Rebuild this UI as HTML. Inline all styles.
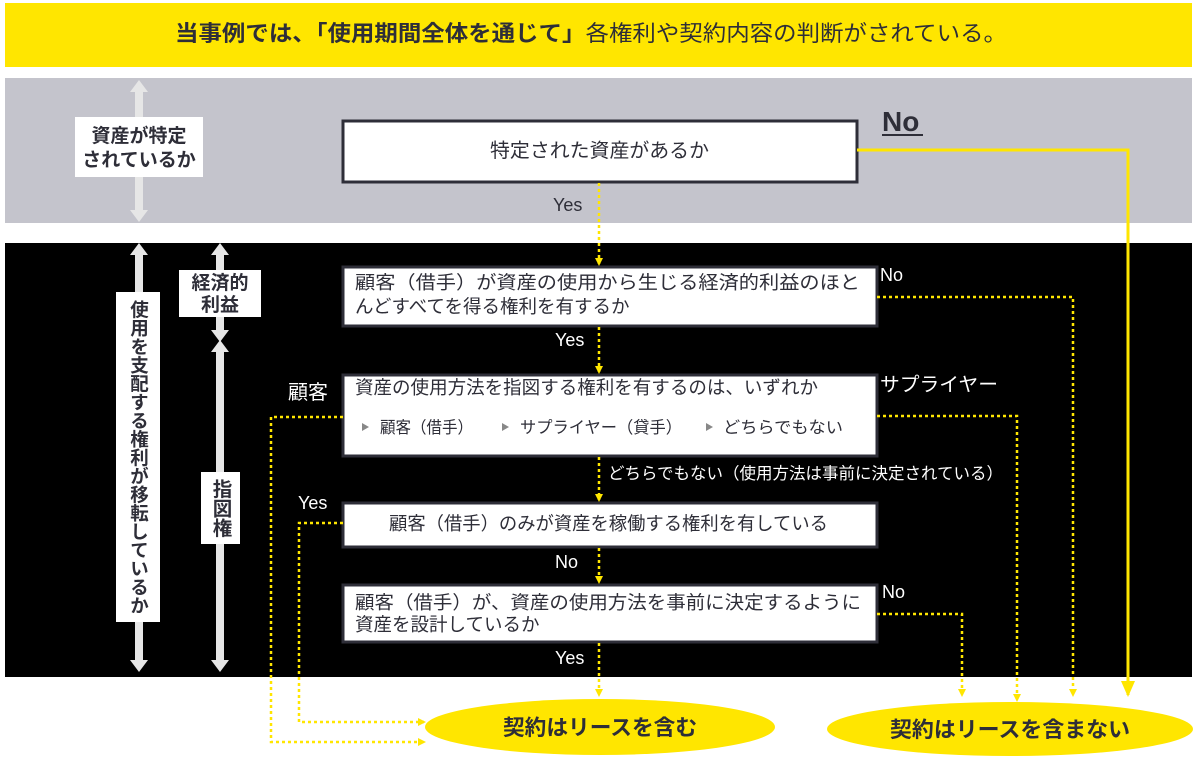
<!DOCTYPE html>
<html><head><meta charset="utf-8"><style>
body{margin:0;background:#fff}
svg{display:block}
text{font-family:"Liberation Sans","Noto Sans CJK JP",sans-serif}
</style></head><body>
<svg width="1197" height="763" viewBox="0 0 1197 763" xmlns="http://www.w3.org/2000/svg">
<defs>
<marker id="ay" markerWidth="8" markerHeight="8" refX="6" refY="4" orient="auto" markerUnits="userSpaceOnUse"><path d="M0,0 L8,4 L0,8z" fill="#FFE600"/></marker>
<marker id="ay2" markerWidth="16" markerHeight="14" refX="14" refY="7" orient="auto" markerUnits="userSpaceOnUse"><path d="M0,0 L16,7 L0,14z" fill="#FFE600"/></marker>
</defs>
<rect x="5" y="3" width="1187" height="64" fill="#FFE600"/>
<text x="175" y="41" font-size="22" fill="#2e2e38" textLength="832" lengthAdjust="spacingAndGlyphs"><tspan font-weight="bold">当事例では、「使用期間全体を通じて」</tspan>各権利や契約内容の判断がされている。</text>
<rect x="5" y="78" width="1187" height="145" fill="#C4C4CC"/>
<rect x="5" y="243" width="1187" height="434" fill="#000"/>

<g fill="#E6E6E6">
<rect x="135" y="92" width="8" height="118"/>
<path d="M130,92 L139,80 L148,92z M130,210 L139,222 L148,210z"/>
<rect x="135" y="255" width="8" height="405"/>
<path d="M130,255 L139,243 L148,255z M130,660 L139,672 L148,660z"/>
<rect x="216" y="255" width="8" height="75"/>
<path d="M211,255 L220,243 L229,255z M211,330 L220,342 L229,330z"/>
<rect x="216" y="352" width="8" height="310"/>
<path d="M211,352 L220,340 L229,352z M211,660 L220,672 L229,660z"/>
</g>
<rect x="75" y="117" width="128" height="60" fill="#fff"/>
<text x="139" y="142" font-size="19" font-weight="bold" text-anchor="middle" fill="#2e2e38">資産が特定</text>
<text x="139" y="166" font-size="19" font-weight="bold" text-anchor="middle" fill="#2e2e38">されているか</text>
<rect x="116" y="292" width="44" height="330" fill="#fff"/>
<text x="139" y="300" font-size="18.5" font-weight="bold" fill="#2e2e38" style="writing-mode:vertical-rl">使用を支配する権利が移転しているか</text>
<rect x="179" y="270" width="82" height="47" fill="#fff"/>
<text x="220" y="289" font-size="19" font-weight="bold" text-anchor="middle" fill="#2e2e38">経済的</text>
<text x="220" y="311" font-size="19" font-weight="bold" text-anchor="middle" fill="#2e2e38">利益</text>
<rect x="201" y="472" width="39" height="72" fill="#fff"/>
<text x="220" y="479" font-size="19.5" font-weight="bold" fill="#2e2e38" style="writing-mode:vertical-rl">指図権</text>

<g fill="#fff" stroke="#2e2e38" stroke-width="3">
<rect x="343" y="121" width="514" height="61"/>
<rect x="343" y="267" width="534" height="59"/>
<rect x="343" y="375" width="534" height="81"/>
<rect x="343" y="503" width="534" height="44"/>
<rect x="343" y="585" width="534" height="57"/>
</g>
<g font-size="18.5" fill="#2e2e38">
<text x="490" y="157" font-size="19.5" textLength="219" lengthAdjust="spacingAndGlyphs">特定された資産があるか</text>
<text x="355" y="289" textLength="505" lengthAdjust="spacingAndGlyphs">顧客（借手）が資産の使用から生じる経済的利益のほと</text>
<text x="355" y="313">んどすべてを得る権利を有するか</text>
<text x="355" y="394" textLength="463" lengthAdjust="spacingAndGlyphs">資産の使用方法を指図する権利を有するのは、いずれか</text>
<g font-size="16.5"><text x="380" y="433" textLength="93" lengthAdjust="spacingAndGlyphs">顧客（借手）</text><text x="520" y="433" textLength="162" lengthAdjust="spacingAndGlyphs">サプライヤー（貸手）</text><text x="723" y="433" textLength="120" lengthAdjust="spacingAndGlyphs">どちらでもない</text></g>
<path d="M362,423 l7,4 l-7,4z M502,423 l7,4 l-7,4z M706,423 l7,4 l-7,4z" fill="#888"/>
<text x="389" y="530" textLength="439" lengthAdjust="spacingAndGlyphs">顧客（借手）のみが資産を稼働する権利を有している</text>
<text x="355" y="609" textLength="506" lengthAdjust="spacingAndGlyphs">顧客（借手）が、資産の使用方法を事前に決定するように</text>
<text x="355" y="631">資産を設計しているか</text>
</g>

<text x="882" y="131" font-size="28" font-weight="bold" fill="#2e2e38">No</text>
<line x1="882" y1="135" x2="923" y2="135" stroke="#2e2e38" stroke-width="2"/>
<g font-size="18" fill="#fff">
<text x="553" y="211" fill="#2e2e38">Yes</text>
<text x="555" y="346">Yes</text>
<text x="880" y="281">No</text>
<text x="288" y="399" font-size="20">顧客</text>
<text x="880" y="391" textLength="118" lengthAdjust="spacingAndGlyphs" font-size="19.5">サプライヤー</text>
<text x="608" y="479" font-size="16.5" textLength="395" lengthAdjust="spacingAndGlyphs">どちらでもない（使用方法は事前に決定されている）</text>
<text x="298" y="509">Yes</text>
<text x="555" y="568">No</text>
<text x="882" y="598">No</text>
<text x="555" y="664">Yes</text>
</g>

<polyline points="857,150 1128,150 1128,695" fill="none" stroke="#FFE600" stroke-width="3" marker-end="url(#ay2)"/>
<g fill="none" stroke="#FFE600" stroke-width="2.5" stroke-dasharray="3,3">
<line x1="599" y1="183" x2="599" y2="264" marker-end="url(#ay)"/>
<line x1="599" y1="327" x2="599" y2="372" marker-end="url(#ay)"/>
<line x1="599" y1="457" x2="599" y2="500" marker-end="url(#ay)"/>
<line x1="599" y1="548" x2="599" y2="582" marker-end="url(#ay)"/>
<line x1="599" y1="643" x2="599" y2="695" marker-end="url(#ay)"/>
<polyline points="877,297 1073,297 1073,695" marker-end="url(#ay)"/>
<polyline points="877,416 1017,416 1017,700" marker-end="url(#ay)"/>
<polyline points="877,614 962,614 962,695" marker-end="url(#ay)"/>
<polyline points="343,417 271,417 271,742 424,742" marker-end="url(#ay)"/>
<polyline points="343,523 299,523 299,722 424,722" marker-end="url(#ay)"/>
</g>

<ellipse cx="600" cy="727" rx="175" ry="28" fill="#FFE600"/>
<ellipse cx="1010" cy="729" rx="183" ry="27" fill="#FFE600"/>
<text x="503" y="735" font-size="21.5" font-weight="bold" fill="#2e2e38" textLength="194" lengthAdjust="spacingAndGlyphs">契約はリースを含む</text>
<text x="890" y="737" font-size="21.5" font-weight="bold" fill="#2e2e38" textLength="240" lengthAdjust="spacingAndGlyphs">契約はリースを含まない</text>
</svg>
</body></html>
